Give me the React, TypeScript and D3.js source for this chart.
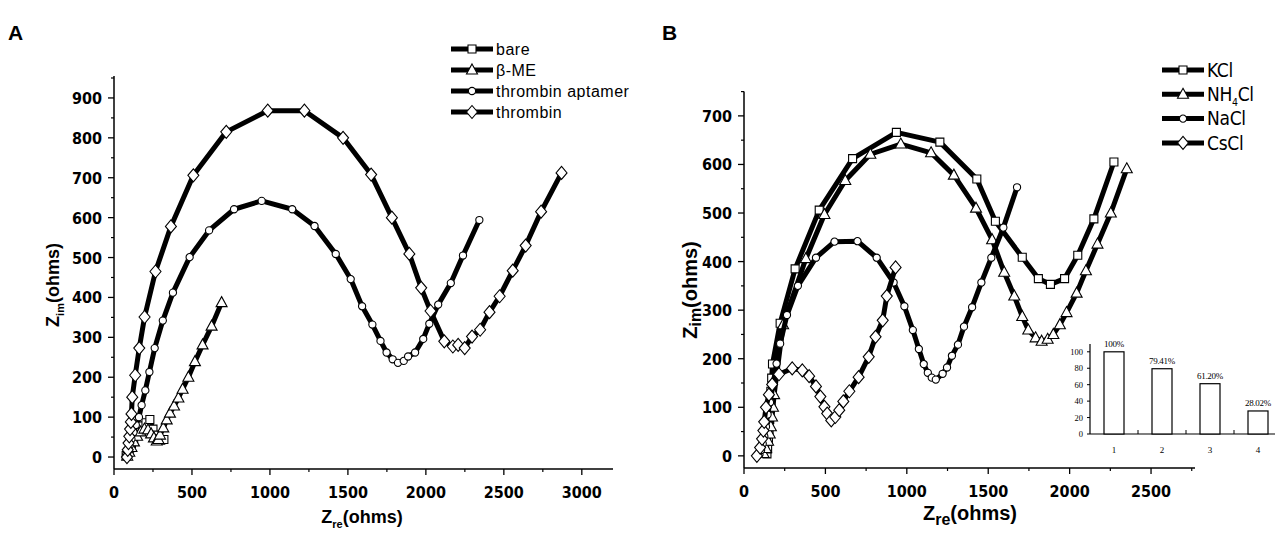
import React from 'react';
import * as d3 from 'd3';

type Pt = [number, number];

// ---- panel A (Zre, Zim in ohms) ----
const bareA: Pt[] = [[78,4],[88,12],[100,22],[112,34],[126,46],[142,58],[160,68],[182,78],[205,86],[230,94],[250,70],[265,55],[282,46],[300,42],[320,44]];
const betaMEA: Pt[] = [[85,2],[98,12],[112,24],[128,38],[148,52],[170,63],[195,70],[218,68],[238,58],[256,48],[274,40],[285,44],[295,55],[316,73],[338,93],[359,110],[385,128],[413,148],[440,170],[477,200],[519,239],[568,281],[626,328],[690,387]];
const aptamerA: Pt[] = [[78,5],[90,15],[100,28],[112,45],[125,62],[140,80],[160,100],[177,130],[201,167],[227,213],[261,273],[313,342],[378,412],[485,501],[610,568],[770,621],[947,642],[1143,621],[1286,579],[1422,509],[1518,446],[1591,378],[1657,332],[1709,291],[1748,262],[1787,245],[1821,236],[1858,241],[1886,252],[1931,262],[1983,296],[2022,334],[2079,382],[2160,436],[2238,505],[2343,594]];
const thrombinA: Pt[] = [[83,0],[88,18],[93,35],[98,52],[103,70],[108,88],[112,108],[117,150],[136,205],[162,273],[196,351],[266,465],[365,578],[509,706],[720,815],[986,868],[1221,868],[1469,800],[1649,708],[1782,600],[1894,509],[1970,424],[2030,366],[2118,290],[2173,277],[2207,281],[2249,273],[2296,302],[2348,319],[2408,363],[2473,403],[2557,467],[2640,530],[2739,615],[2870,712]];
const legendA = ['bare', 'β-ME', 'thrombin aptamer', 'thrombin'];

// ---- panel B ----
const kclB: Pt[] = [[141,4],[145,14],[150,30],[154,50],[158,75],[162,105],[165,133],[170,160],[175,189],[222,273],[314,385],[462,506],[667,612],[936,666],[1203,646],[1430,570],[1544,483],[1709,409],[1808,365],[1882,353],[1969,365],[2050,413],[2149,488],[2272,605]];
const nh4clB: Pt[] = [[120,5],[135,15],[148,30],[158,45],[165,60],[172,80],[178,100],[185,126],[240,270],[380,406],[494,497],[622,567],[776,621],[963,642],[1149,624],[1289,578],[1425,510],[1524,445],[1598,378],[1660,329],[1709,287],[1746,259],[1791,243],[1828,236],[1865,240],[1900,250],[1940,270],[1981,295],[2043,335],[2100,381],[2171,436],[2253,500],[2351,591]];
const naclB: Pt[] = [[95,3],[105,12],[115,25],[125,40],[135,60],[145,85],[160,110],[180,150],[200,190],[222,231],[264,290],[331,350],[442,408],[556,441],[697,442],[815,408],[919,357],[985,308],[1037,259],[1074,220],[1104,189],[1129,171],[1153,161],[1178,157],[1220,169],[1247,182],[1277,206],[1314,229],[1351,266],[1401,306],[1458,357],[1519,408],[1593,470],[1677,553]];
const csclB: Pt[] = [[79,0],[99,17],[111,35],[119,52],[124,70],[135,100],[153,126],[173,147],[215,168],[296,180],[358,176],[400,164],[442,143],[469,122],[494,101],[511,87],[536,73],[561,80],[585,94],[610,112],[647,133],[704,162],[766,204],[808,245],[852,279],[877,329],[931,388]];
const legendB = ['KCl', 'NH4Cl', 'NaCl', 'CsCl'];

// ---- inset bars ----
const insetCats = ['1', '2', '3', '4'];
const insetVals = [100, 79.41, 61.2, 28.02];
const insetLabels = ['100%', '79.41%', '61.20%', '28.02%'];
const insetTicks = [0, 20, 40, 60, 80, 100];

const tickFont = "'Liberation Sans Narrow', 'DejaVu Sans Condensed', sans-serif";
const titleFont = "'Liberation Sans', Arial, sans-serif";
const serifFont = "'Liberation Serif', serif";

const markerPath = (shape: string, x: number, y: number) => {
  if (shape === 'square') return `M${x - 4},${y - 4}h8v8h-8Z`;
  if (shape === 'triangle') return `M${x},${y - 6}L${x + 5.5},${y + 4}L${x - 5.5},${y + 4}Z`;
  if (shape === 'circle') return `M${x + 3.6},${y}A3.6,3.6 0 1,1 ${x - 3.6},${y}A3.6,3.6 0 1,1 ${x + 3.6},${y}Z`;
  return `M${x},${y - 6.5}L${x + 5.5},${y}L${x},${y + 6.5}L${x - 5.5},${y}Z`;
};

const shapes = ['square', 'triangle', 'circle', 'diamond'];

function Series({ data, shape, x, y }: { data: Pt[]; shape: string; x: any; y: any }) {
  const line = d3.line<Pt>().x(d => x(d[0])).y(d => y(d[1]));
  return (
    <g>
      <path d={line(data) || ''} fill="none" stroke="#000" strokeWidth={5} strokeLinejoin="round" />
      {data.map((d, i) => (
        <path key={i} d={markerPath(shape, x(d[0]), y(d[1]))} fill="#fff" stroke="#000" strokeWidth={1.1} />
      ))}
    </g>
  );
}

function Axes({ x, y, xMajor, xMinor, yMajor, yMinor }: any) {
  const [x0, x1] = x.range();
  const [y0, y1] = y.range();
  return (
    <g>
      <line x1={x0} x2={x1} y1={y0} y2={y0} stroke="#000" strokeWidth={1.5} />
      <line x1={x0} x2={x0} y1={y0} y2={y1} stroke="#000" strokeWidth={1.5} />
      {xMajor.map((t: number) => (
        <g key={'xm' + t}>
          <line x1={x(t)} x2={x(t)} y1={y0} y2={y0 + 6} stroke="#000" strokeWidth={1.3} />
          <text x={x(t)} y={y0 + 29} textAnchor="middle" fontFamily={tickFont} fontWeight="bold" fontSize={16}>{t}</text>
        </g>
      ))}
      {xMinor.map((t: number) => (
        <line key={'xn' + t} x1={x(t)} x2={x(t)} y1={y0} y2={y0 + 3} stroke="#000" strokeWidth={1.2} />
      ))}
      {yMajor.map((t: number) => (
        <g key={'ym' + t}>
          <line x1={x0} x2={x0 - 6} y1={y(t)} y2={y(t)} stroke="#000" strokeWidth={1.3} />
          <text x={x0 - 12} y={y(t) + 6} textAnchor="end" fontFamily={tickFont} fontWeight="bold" fontSize={16}>{t}</text>
        </g>
      ))}
      {yMinor.map((t: number) => (
        <line key={'yn' + t} x1={x0} x2={x0 - 3} y1={y(t)} y2={y(t)} stroke="#000" strokeWidth={1.2} />
      ))}
    </g>
  );
}

function Legend({ items, x, y0, dy, fontSize, spacing, font }: any) {
  return (
    <g>
      {items.map((name: string, i: number) => {
        const yy = y0 + i * dy;
        return (
          <g key={name}>
            <line x1={x} x2={x + 42} y1={yy} y2={yy} stroke="#000" strokeWidth={5} />
            <path d={markerPath(shapes[i], x + 21, yy)} fill="#fff" stroke="#000" strokeWidth={1.1} />
            <text x={x + 45} y={yy + fontSize * 0.36} fontFamily={font} fontSize={fontSize} letterSpacing={spacing}>
              {name === 'NH4Cl' ? (<>NH<tspan dy={5} fontSize={fontSize * 0.55}>4</tspan><tspan dy={-5}>Cl</tspan></>) : name}
            </text>
          </g>
        );
      })}
    </g>
  );
}

export default function App() {
  const xA = d3.scaleLinear().domain([0, 3200]).range([114, 613]);
  const yA = d3.scaleLinear().domain([-30, 955]).range([469, 76]);
  const xB = d3.scaleLinear().domain([0, 2770]).range([744, 1195]);
  const yB = d3.scaleLinear().domain([-25, 750]).range([468, 91.6]);

  const seriesA = [bareA, betaMEA, aptamerA, thrombinA];
  const seriesB = [kclB, nh4clB, naclB, csclB];

  const xIn = d3.scalePoint().domain(insetCats).range([1090, 1282]).padding(0.5);
  const yIn = d3.scaleLinear().domain([0, 109.5]).range([434, 344]);

  return (
    <svg width={1275} height={533} style={{ position: 'absolute', left: 0, top: 0, background: '#fff' }}>
      <rect width={1275} height={533} fill="#fff" />
      <text x={8} y={40} fontFamily={titleFont} fontWeight="bold" fontSize={21}>A</text>
      <text x={662} y={40} fontFamily={titleFont} fontWeight="bold" fontSize={21}>B</text>

      {/* panel A */}
      <Axes x={xA} y={yA}
        xMajor={d3.range(0, 3001, 500)} xMinor={d3.range(250, 3200, 500)}
        yMajor={d3.range(0, 901, 100)} yMinor={d3.range(50, 955, 100)} />
      {seriesA.map((s, i) => <Series key={i} data={s} shape={shapes[i]} x={xA} y={yA} />)}
      <Legend items={legendA} x={451} y0={49} dy={21} fontSize={16} spacing={0.5} font={titleFont} />
      <text transform="translate(59,285) rotate(-90)" textAnchor="middle" fontFamily={titleFont} fontWeight="bold" fontSize={18}>
        Z<tspan dy={5} fontSize={11}>im</tspan><tspan dy={-5}>(ohms)</tspan>
      </text>
      <text x={362} y={523} textAnchor="middle" fontFamily={titleFont} fontWeight="bold" fontSize={18}>
        Z<tspan dy={5} fontSize={11}>re</tspan><tspan dy={-5}>(ohms)</tspan>
      </text>

      {/* panel B */}
      <Axes x={xB} y={yB}
        xMajor={d3.range(0, 2501, 500)} xMinor={d3.range(250, 2770, 500)}
        yMajor={d3.range(0, 701, 100)} yMinor={d3.range(50, 751, 100)} />
      {seriesB.map((s, i) => <Series key={i} data={s} shape={shapes[i]} x={xB} y={yB} />)}
      <Legend items={legendB} x={1162} y0={70} dy={24.3} fontSize={19} spacing={-0.3} font={tickFont} />
      <text transform="translate(697,290) rotate(-90)" textAnchor="middle" fontFamily={titleFont} fontWeight="bold" fontSize={20}>
        Z<tspan dy={4} fontSize={16}>im</tspan><tspan dy={-4}>(ohms)</tspan>
      </text>
      <text x={970} y={520} textAnchor="middle" fontFamily={titleFont} fontWeight="bold" fontSize={20}>
        Z<tspan dy={5} fontSize={16}>re</tspan><tspan dy={-5}>(ohms)</tspan>
      </text>

      {/* inset */}
      <g>
        <rect x={1085} y={335} width={190} height={125} fill="#fff" />
        <line x1={1090} x2={1275} y1={yIn(0)} y2={yIn(0)} stroke="#000" strokeWidth={1.2} />
        <line x1={1090} x2={1090} y1={yIn(0)} y2={yIn(109.5)} stroke="#000" strokeWidth={1.2} />
        {insetTicks.map(t => (
          <g key={t}>
            <line x1={1090} x2={1087} y1={yIn(t)} y2={yIn(t)} stroke="#000" />
            <text x={1083} y={yIn(t) + 3} textAnchor="end" fontFamily={serifFont} fontSize={8.5} fill="#000">{t}</text>
          </g>
        ))}
        {insetCats.map((c, i) => (
          <g key={c}>
            <rect x={(xIn(c) as number) - 10} y={yIn(insetVals[i])} width={20} height={yIn(0) - yIn(insetVals[i])} fill="#fff" stroke="#000" strokeWidth={1.2} />
            <text x={xIn(c) as number} y={yIn(insetVals[i]) - 5} textAnchor="middle" fontFamily={serifFont} fontSize={9} letterSpacing={-0.3} fill="#000">{insetLabels[i]}</text>
            <text x={xIn(c) as number} y={yIn(0) + 19} textAnchor="middle" fontFamily={serifFont} fontSize={9} fill="#000">{c}</text>
            {i > 0 && <line x1={(xIn(c) as number) - 24} x2={(xIn(c) as number) - 24} y1={yIn(0)} y2={yIn(0) - 4} stroke="#000" />}
          </g>
        ))}
      </g>
    </svg>
  );
}
